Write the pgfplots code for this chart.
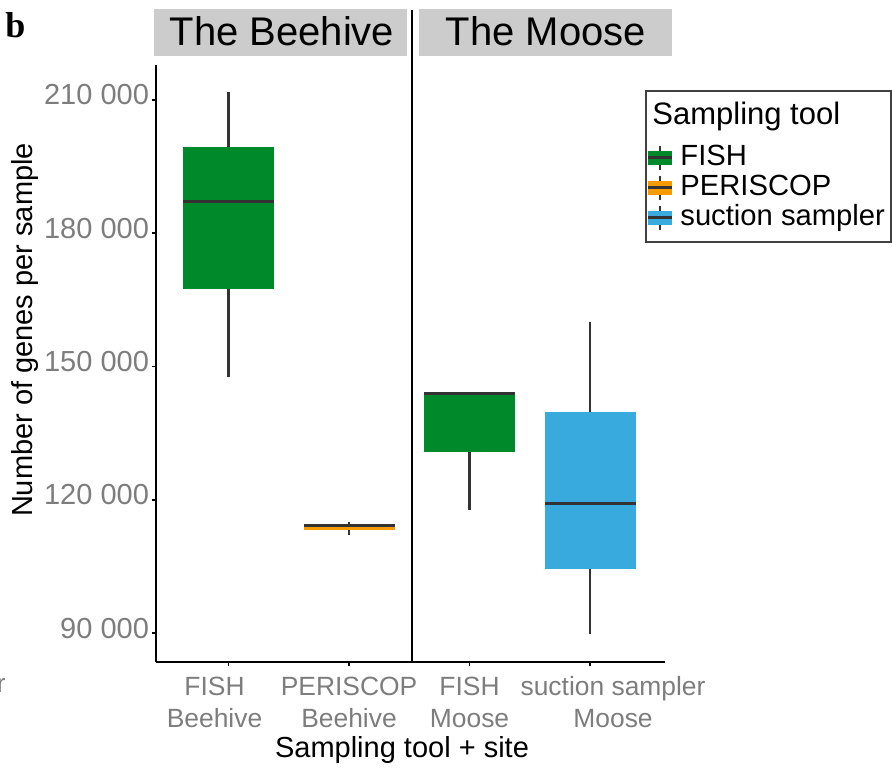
\documentclass[border=0pt]{standalone}
\usepackage{pgfplots}
\pgfplotsset{compat=1.18}
\usepackage{fontspec}
\setmainfont{Liberation Sans}
\newfontfamily\panelletter{Liberation Serif}

\definecolor{fishgreen}{RGB}{0,137,43}
\definecolor{periorange}{RGB}{245,155,0}
\definecolor{suctionblue}{RGB}{56,170,221}
\definecolor{stripgray}{RGB}{204,204,204}
\definecolor{tickgray}{RGB}{125,125,125}
\definecolor{whiskergray}{RGB}{51,51,51}

\newcommand{\fs}[1]{\fontsize{#1}{1.15\dimexpr#1\relax}\selectfont}

\pgfplotsset{
  whisker/.style={draw=whiskergray, line width=1.2pt, mark=none},
  medianline/.style={draw=whiskergray, line width=1.5pt, mark=none},
  boxbody/.style={fill=#1, draw=none, mark=none},
}

\begin{document}
\begin{tikzpicture}
\begin{axis}[
  name=ax,
  scale only axis,
  width=254.5pt, height=298.5pt,
  xmin=0.398, xmax=4.622,
  ymin=83475, ymax=217875,
  axis x line=bottom, axis y line=left,
  axis line style={-, line width=1.4pt, black},
  xtick={1,2,3,4},
  xticklabels={
    {\makebox[0pt][c]{\hspace{-14pt}\begin{tabular}{@{}c@{}}FISH\\Beehive\end{tabular}}},
    {\begin{tabular}{@{}c@{}}PERISCOP\\Beehive\end{tabular}},
    {\begin{tabular}{@{}c@{}}FISH\\Moose\end{tabular}},
    {\makebox[0pt][c]{\hspace{23pt}\begin{tabular}{@{}c@{}}suction sampler\\Moose\end{tabular}}}},
  ytick={90000,120000,150000,180000,210000},
  yticklabels={90 000,120 000,150 000,180 000,210 000},
  scaled y ticks=false,
  tick align=outside,
  major tick length=2pt,
  tick style={line width=0.8pt, black},
  xticklabel style={font=\fontsize{13.2}{16}\selectfont, text=tickgray, anchor=north},
  yticklabel style={font=\fs{14.5pt}, text=tickgray, yshift=2.5pt, xshift=2pt},
  clip=false,
]
% ---- The Beehive: FISH (whiskers 147600 / 211725, box 167400-199350, median 187200)
\addplot[whisker] coordinates {(1,147600) (1,167400)};
\addplot[whisker] coordinates {(1,199350) (1,211725)};
\addplot[boxbody=fishgreen] coordinates {(0.6225,167400) (1.3775,167400) (1.3775,199350) (0.6225,199350)} -- cycle;
\addplot[medianline] coordinates {(0.6225,187200) (1.3775,187200)};
% ---- The Beehive: PERISCOP (whiskers 112050 / 115000, box 113175-114525, median 114150)
\addplot[whisker] coordinates {(2,112050) (2,113175)};
\addplot[whisker] coordinates {(2,114525) (2,115000)};
\addplot[boxbody=periorange] coordinates {(1.6225,113175) (2.3775,113175) (2.3775,114525) (1.6225,114525)} -- cycle;
\addplot[medianline] coordinates {(1.6225,114150) (2.3775,114150)};
% ---- The Moose: FISH (whiskers 117675 / 144000, box 130700-144000, median 144000)
\addplot[whisker] coordinates {(3,117675) (3,130700)};
\addplot[boxbody=fishgreen] coordinates {(2.6225,130700) (3.3775,130700) (3.3775,144000) (2.6225,144000)} -- cycle;
\addplot[medianline] coordinates {(2.6225,144000) (3.3775,144000)};
% ---- The Moose: suction sampler (whiskers 89775 / 160000, box 104470-139700, median 119180)
\addplot[whisker] coordinates {(4,89775) (4,104470)};
\addplot[whisker] coordinates {(4,139700) (4,160000)};
\addplot[boxbody=suctionblue] coordinates {(3.6225,104470) (4.3775,104470) (4.3775,139700) (3.6225,139700)} -- cycle;
\addplot[medianline] coordinates {(3.6225,119180) (4.3775,119180)};
\end{axis}

% page layout in pixel units (origin top left, y downwards)
\begin{scope}[shift={(ax.south west)}, shift={(-78pt,331pt)}, x=0.5pt, y=-0.5pt]
  % facet strips
  \fill[stripgray] (154,9) rectangle (407,56);
  \fill[stripgray] (419,9) rectangle (672,56);
  \node[font=\fs{20pt}, anchor=base] at (282,46) {The Beehive};
  \node[font=\fs{20pt}, anchor=base] at (546,46) {The Moose};
  % panel separator
  \draw[line width=1.4pt, black] (412,10) -- (412,662);
  % panel letter
  \node[font=\panelletter\bfseries\fs{18pt}, anchor=base west, inner sep=0pt] at (5,38) {b};
  % clipped label of the neighbouring panel
  \node[font=\fs{13pt}, text=tickgray, anchor=base east, inner sep=0pt] at (6,692) {r};
  % axis titles
  \node[font=\fs{14.5pt}, anchor=base, rotate=90] at (33,330) {Number of genes per sample};
  \node[font=\fs{14.5pt}, anchor=base] at (402,757) {Sampling tool + site};
  % legend
  \draw[line width=0.6pt, black!75] (646,91) rectangle (891,242);
  \node[font=\fs{15.5pt}, anchor=base west, inner sep=0pt] at (652,125) {Sampling tool};
  \foreach \c/\col/\lab/\yb in {158/fishgreen/FISH/166, 188/periorange/PERISCOP/196, 218/suctionblue/suction sampler/226} {
    \draw[whiskergray, line width=1.2pt] (660,\c-12) -- (660,\c+12);
    \fill[\col] (648,\c-7) rectangle (672,\c+7);
    \draw[whiskergray, line width=1.5pt] (648,\c) -- (672,\c);
    \node[font=\fs{14.6pt}, anchor=base west, inner sep=0pt] at (680,\yb) {\lab};
  }
  \pgfresetboundingbox
  \path[use as bounding box] (0,0) rectangle (892,771);
\end{scope}
\end{tikzpicture}
\end{document}
